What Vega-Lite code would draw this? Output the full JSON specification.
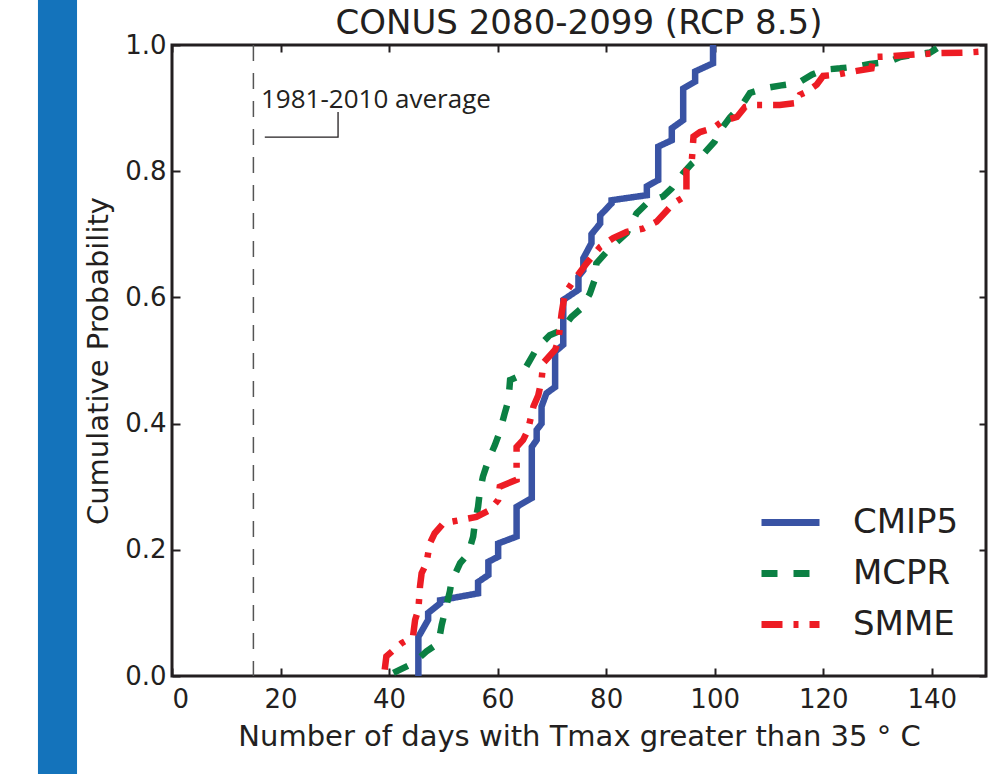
{
  "$schema": "https://vega.github.io/schema/vega-lite/v6.json",
  "width": 814,
  "height": 631,
  "autosize": {"type": "none"},
  "padding": {"left": 172, "top": 45, "right": 12, "bottom": 98},
  "background": "white",
  "title": {"text": "CONUS 2080-2099 (RCP 8.5)", "fontSize": 34, "font": "DejaVu Sans", "fontWeight": "normal", "color": "#231f20", "baseline": "alphabetic", "offset": -73.5},
  "config": {
    "view": {"stroke": "#231f20", "strokeWidth": 3},
    "axis": {
      "domain": false, "grid": false, "tickColor": "#231f20", "tickWidth": 2, "tickSize": -8,
      "labelFont": "DejaVu Sans", "labelFontSize": 26, "labelColor": "#231f20", "labelPadding": 18,
      "titleFont": "DejaVu Sans", "titleFontSize": 29, "titleFontWeight": "normal", "titleColor": "#231f20"
    }
  },
  "datasets": {
    "side": [{"x": -24.7, "x2": -17.5, "y": -0.16, "y2": 1.08}],
    "ref": [{"x": 15}],
    "pointer": [
      {"x": 17.1, "y": 0.854, "o": 1},
      {"x": 30.6, "y": 0.854, "o": 2},
      {"x": 30.6, "y": 0.894, "o": 3}
    ],
    "note": [{"x": 16.4, "y": 0.9, "label": "1981-2010 average"}],
    "cdf": [
      {"s": "CMIP5", "i": 1, "x": 45.4, "y": 0.0},
      {"s": "CMIP5", "i": 2, "x": 45.4, "y": 0.062},
      {"s": "CMIP5", "i": 3, "x": 47.2, "y": 0.089},
      {"s": "CMIP5", "i": 4, "x": 47.2, "y": 0.1},
      {"s": "CMIP5", "i": 5, "x": 49.4, "y": 0.115},
      {"s": "CMIP5", "i": 6, "x": 49.4, "y": 0.12},
      {"s": "CMIP5", "i": 7, "x": 56.4, "y": 0.131},
      {"s": "CMIP5", "i": 8, "x": 56.4, "y": 0.149},
      {"s": "CMIP5", "i": 9, "x": 58.3, "y": 0.16},
      {"s": "CMIP5", "i": 10, "x": 58.3, "y": 0.181},
      {"s": "CMIP5", "i": 11, "x": 60.1, "y": 0.189},
      {"s": "CMIP5", "i": 12, "x": 60.1, "y": 0.21},
      {"s": "CMIP5", "i": 13, "x": 63.5, "y": 0.221},
      {"s": "CMIP5", "i": 14, "x": 63.5, "y": 0.268},
      {"s": "CMIP5", "i": 15, "x": 66.3, "y": 0.282},
      {"s": "CMIP5", "i": 16, "x": 66.3, "y": 0.363},
      {"s": "CMIP5", "i": 17, "x": 67.2, "y": 0.374},
      {"s": "CMIP5", "i": 18, "x": 67.2, "y": 0.39},
      {"s": "CMIP5", "i": 19, "x": 68.1, "y": 0.4},
      {"s": "CMIP5", "i": 20, "x": 68.1, "y": 0.427},
      {"s": "CMIP5", "i": 21, "x": 69.0, "y": 0.448},
      {"s": "CMIP5", "i": 22, "x": 70.6, "y": 0.458},
      {"s": "CMIP5", "i": 23, "x": 70.6, "y": 0.514},
      {"s": "CMIP5", "i": 24, "x": 72.1, "y": 0.525},
      {"s": "CMIP5", "i": 25, "x": 72.1, "y": 0.596},
      {"s": "CMIP5", "i": 26, "x": 74.9, "y": 0.612},
      {"s": "CMIP5", "i": 27, "x": 74.9, "y": 0.633},
      {"s": "CMIP5", "i": 28, "x": 75.8, "y": 0.643},
      {"s": "CMIP5", "i": 29, "x": 75.8, "y": 0.662},
      {"s": "CMIP5", "i": 30, "x": 77.3, "y": 0.686},
      {"s": "CMIP5", "i": 31, "x": 77.3, "y": 0.7},
      {"s": "CMIP5", "i": 32, "x": 78.9, "y": 0.717},
      {"s": "CMIP5", "i": 33, "x": 78.9, "y": 0.73},
      {"s": "CMIP5", "i": 34, "x": 81.0, "y": 0.749},
      {"s": "CMIP5", "i": 35, "x": 81.0, "y": 0.754},
      {"s": "CMIP5", "i": 36, "x": 87.5, "y": 0.762},
      {"s": "CMIP5", "i": 37, "x": 87.5, "y": 0.776},
      {"s": "CMIP5", "i": 38, "x": 89.6, "y": 0.786},
      {"s": "CMIP5", "i": 39, "x": 89.6, "y": 0.839},
      {"s": "CMIP5", "i": 40, "x": 92.1, "y": 0.849},
      {"s": "CMIP5", "i": 41, "x": 92.1, "y": 0.868},
      {"s": "CMIP5", "i": 42, "x": 94.2, "y": 0.881},
      {"s": "CMIP5", "i": 43, "x": 94.2, "y": 0.931},
      {"s": "CMIP5", "i": 44, "x": 96.4, "y": 0.942},
      {"s": "CMIP5", "i": 45, "x": 96.4, "y": 0.958},
      {"s": "CMIP5", "i": 46, "x": 99.7, "y": 0.971},
      {"s": "CMIP5", "i": 47, "x": 99.7, "y": 1.0},
      {"s": "MCPR", "i": 1, "x": 40.8, "y": 0.005},
      {"s": "MCPR", "i": 2, "x": 44.4, "y": 0.02},
      {"s": "MCPR", "i": 3, "x": 46.9, "y": 0.039},
      {"s": "MCPR", "i": 4, "x": 49.1, "y": 0.052},
      {"s": "MCPR", "i": 5, "x": 49.7, "y": 0.081},
      {"s": "MCPR", "i": 6, "x": 50.3, "y": 0.102},
      {"s": "MCPR", "i": 7, "x": 51.2, "y": 0.134},
      {"s": "MCPR", "i": 8, "x": 51.5, "y": 0.149},
      {"s": "MCPR", "i": 9, "x": 53.1, "y": 0.179},
      {"s": "MCPR", "i": 10, "x": 54.6, "y": 0.194},
      {"s": "MCPR", "i": 11, "x": 55.5, "y": 0.221},
      {"s": "MCPR", "i": 12, "x": 55.8, "y": 0.242},
      {"s": "MCPR", "i": 13, "x": 56.4, "y": 0.268},
      {"s": "MCPR", "i": 14, "x": 56.7, "y": 0.29},
      {"s": "MCPR", "i": 15, "x": 57.3, "y": 0.316},
      {"s": "MCPR", "i": 16, "x": 58.3, "y": 0.342},
      {"s": "MCPR", "i": 17, "x": 59.5, "y": 0.366},
      {"s": "MCPR", "i": 18, "x": 60.4, "y": 0.387},
      {"s": "MCPR", "i": 19, "x": 61.3, "y": 0.416},
      {"s": "MCPR", "i": 20, "x": 62.0, "y": 0.437},
      {"s": "MCPR", "i": 21, "x": 62.3, "y": 0.469},
      {"s": "MCPR", "i": 22, "x": 64.4, "y": 0.477},
      {"s": "MCPR", "i": 23, "x": 66.0, "y": 0.501},
      {"s": "MCPR", "i": 24, "x": 67.2, "y": 0.519},
      {"s": "MCPR", "i": 25, "x": 69.6, "y": 0.54},
      {"s": "MCPR", "i": 26, "x": 71.8, "y": 0.548},
      {"s": "MCPR", "i": 27, "x": 73.6, "y": 0.569},
      {"s": "MCPR", "i": 28, "x": 75.5, "y": 0.583},
      {"s": "MCPR", "i": 29, "x": 77.0, "y": 0.606},
      {"s": "MCPR", "i": 30, "x": 77.9, "y": 0.628},
      {"s": "MCPR", "i": 31, "x": 78.2, "y": 0.654},
      {"s": "MCPR", "i": 32, "x": 80.7, "y": 0.678},
      {"s": "MCPR", "i": 33, "x": 83.8, "y": 0.702},
      {"s": "MCPR", "i": 34, "x": 85.6, "y": 0.733},
      {"s": "MCPR", "i": 35, "x": 87.5, "y": 0.749},
      {"s": "MCPR", "i": 36, "x": 90.5, "y": 0.76},
      {"s": "MCPR", "i": 37, "x": 92.1, "y": 0.773},
      {"s": "MCPR", "i": 38, "x": 94.2, "y": 0.797},
      {"s": "MCPR", "i": 39, "x": 95.8, "y": 0.812},
      {"s": "MCPR", "i": 40, "x": 98.0, "y": 0.828},
      {"s": "MCPR", "i": 41, "x": 100.0, "y": 0.847},
      {"s": "MCPR", "i": 42, "x": 101.4, "y": 0.869},
      {"s": "MCPR", "i": 43, "x": 102.8, "y": 0.885},
      {"s": "MCPR", "i": 44, "x": 105.3, "y": 0.908},
      {"s": "MCPR", "i": 45, "x": 106.5, "y": 0.924},
      {"s": "MCPR", "i": 46, "x": 109.6, "y": 0.932},
      {"s": "MCPR", "i": 47, "x": 112.3, "y": 0.936},
      {"s": "MCPR", "i": 48, "x": 115.4, "y": 0.94},
      {"s": "MCPR", "i": 49, "x": 117.9, "y": 0.953},
      {"s": "MCPR", "i": 50, "x": 120.3, "y": 0.961},
      {"s": "MCPR", "i": 51, "x": 123.1, "y": 0.963},
      {"s": "MCPR", "i": 52, "x": 126.2, "y": 0.966},
      {"s": "MCPR", "i": 53, "x": 128.6, "y": 0.97},
      {"s": "MCPR", "i": 54, "x": 132.0, "y": 0.973},
      {"s": "MCPR", "i": 55, "x": 134.2, "y": 0.981},
      {"s": "MCPR", "i": 56, "x": 137.2, "y": 0.985},
      {"s": "MCPR", "i": 57, "x": 139.7, "y": 0.988},
      {"s": "MCPR", "i": 58, "x": 141.0, "y": 0.995},
      {"s": "SMME", "i": 1, "x": 39.2, "y": 0.01},
      {"s": "SMME", "i": 2, "x": 39.5, "y": 0.031},
      {"s": "SMME", "i": 3, "x": 40.8, "y": 0.041},
      {"s": "SMME", "i": 4, "x": 42.3, "y": 0.052},
      {"s": "SMME", "i": 5, "x": 44.4, "y": 0.062},
      {"s": "SMME", "i": 6, "x": 44.8, "y": 0.089},
      {"s": "SMME", "i": 7, "x": 45.4, "y": 0.105},
      {"s": "SMME", "i": 8, "x": 45.7, "y": 0.142},
      {"s": "SMME", "i": 9, "x": 46.0, "y": 0.163},
      {"s": "SMME", "i": 10, "x": 46.9, "y": 0.179},
      {"s": "SMME", "i": 11, "x": 47.5, "y": 0.21},
      {"s": "SMME", "i": 12, "x": 48.4, "y": 0.226},
      {"s": "SMME", "i": 13, "x": 50.0, "y": 0.242},
      {"s": "SMME", "i": 14, "x": 53.0, "y": 0.247},
      {"s": "SMME", "i": 15, "x": 56.1, "y": 0.252},
      {"s": "SMME", "i": 16, "x": 58.6, "y": 0.263},
      {"s": "SMME", "i": 17, "x": 60.1, "y": 0.279},
      {"s": "SMME", "i": 18, "x": 60.4, "y": 0.3},
      {"s": "SMME", "i": 19, "x": 63.5, "y": 0.311},
      {"s": "SMME", "i": 20, "x": 63.5, "y": 0.363},
      {"s": "SMME", "i": 21, "x": 64.7, "y": 0.374},
      {"s": "SMME", "i": 22, "x": 65.6, "y": 0.39},
      {"s": "SMME", "i": 23, "x": 66.3, "y": 0.416},
      {"s": "SMME", "i": 24, "x": 66.6, "y": 0.427},
      {"s": "SMME", "i": 25, "x": 67.5, "y": 0.445},
      {"s": "SMME", "i": 26, "x": 68.1, "y": 0.469},
      {"s": "SMME", "i": 27, "x": 68.4, "y": 0.496},
      {"s": "SMME", "i": 28, "x": 70.6, "y": 0.517},
      {"s": "SMME", "i": 29, "x": 71.2, "y": 0.532},
      {"s": "SMME", "i": 30, "x": 71.8, "y": 0.575},
      {"s": "SMME", "i": 31, "x": 72.4, "y": 0.606},
      {"s": "SMME", "i": 32, "x": 73.9, "y": 0.625},
      {"s": "SMME", "i": 33, "x": 74.6, "y": 0.633},
      {"s": "SMME", "i": 34, "x": 76.4, "y": 0.654},
      {"s": "SMME", "i": 35, "x": 78.9, "y": 0.68},
      {"s": "SMME", "i": 36, "x": 81.3, "y": 0.694},
      {"s": "SMME", "i": 37, "x": 83.8, "y": 0.704},
      {"s": "SMME", "i": 38, "x": 86.8, "y": 0.709},
      {"s": "SMME", "i": 39, "x": 89.3, "y": 0.72},
      {"s": "SMME", "i": 40, "x": 92.4, "y": 0.749},
      {"s": "SMME", "i": 41, "x": 94.5, "y": 0.76},
      {"s": "SMME", "i": 42, "x": 94.8, "y": 0.768},
      {"s": "SMME", "i": 43, "x": 94.8, "y": 0.802},
      {"s": "SMME", "i": 44, "x": 95.8, "y": 0.818},
      {"s": "SMME", "i": 45, "x": 96.1, "y": 0.855},
      {"s": "SMME", "i": 46, "x": 97.3, "y": 0.862},
      {"s": "SMME", "i": 47, "x": 99.7, "y": 0.868},
      {"s": "SMME", "i": 48, "x": 101.4, "y": 0.879},
      {"s": "SMME", "i": 49, "x": 104.1, "y": 0.886},
      {"s": "SMME", "i": 50, "x": 105.6, "y": 0.902},
      {"s": "SMME", "i": 51, "x": 107.1, "y": 0.905},
      {"s": "SMME", "i": 52, "x": 112.0, "y": 0.905},
      {"s": "SMME", "i": 53, "x": 115.1, "y": 0.908},
      {"s": "SMME", "i": 54, "x": 115.7, "y": 0.921},
      {"s": "SMME", "i": 55, "x": 117.0, "y": 0.926},
      {"s": "SMME", "i": 56, "x": 118.8, "y": 0.937},
      {"s": "SMME", "i": 57, "x": 120.0, "y": 0.951},
      {"s": "SMME", "i": 58, "x": 122.5, "y": 0.953},
      {"s": "SMME", "i": 59, "x": 126.2, "y": 0.959},
      {"s": "SMME", "i": 60, "x": 128.9, "y": 0.963},
      {"s": "SMME", "i": 61, "x": 129.2, "y": 0.981},
      {"s": "SMME", "i": 62, "x": 132.3, "y": 0.982},
      {"s": "SMME", "i": 63, "x": 135.4, "y": 0.984},
      {"s": "SMME", "i": 64, "x": 140.9, "y": 0.987},
      {"s": "SMME", "i": 65, "x": 146.4, "y": 0.988},
      {"s": "SMME", "i": 66, "x": 150.0, "y": 0.99}
    ],
    "frame": [{"x": 0, "y": 0}]
  },
  "layer": [
    {
      "data": {"name": "side"},
      "mark": {"type": "rect", "color": "#1473bb", "clip": false},
      "encoding": {
        "x": {"field": "x", "type": "quantitative", "scale": {"domain": [0, 150], "nice": false, "zero": false}, "axis": null},
        "x2": {"field": "x2"},
        "y": {"field": "y", "type": "quantitative", "scale": {"domain": [0, 1], "nice": false, "zero": false}, "axis": null},
        "y2": {"field": "y2"}
      }
    },
    {
      "data": {"name": "ref"},
      "mark": {"type": "rule", "color": "#555555", "strokeWidth": 1.5, "strokeDash": [16, 12]},
      "encoding": {
        "x": {"field": "x", "type": "quantitative", "scale": {"domain": [0, 150], "nice": false, "zero": false}, "axis": null}
      }
    },
    {
      "data": {"name": "pointer"},
      "mark": {"type": "line", "color": "#231f20", "strokeWidth": 1.3},
      "encoding": {
        "x": {"field": "x", "type": "quantitative", "scale": {"domain": [0, 150], "nice": false, "zero": false}, "axis": null},
        "y": {"field": "y", "type": "quantitative", "scale": {"domain": [0, 1], "nice": false, "zero": false}, "axis": null},
        "order": {"field": "o"}
      }
    },
    {
      "data": {"name": "note"},
      "mark": {"type": "text", "align": "left", "baseline": "alphabetic", "font": "Open Sans", "fontSize": 26, "color": "#231f20"},
      "encoding": {
        "x": {"field": "x", "type": "quantitative", "scale": {"domain": [0, 150], "nice": false, "zero": false}, "axis": null},
        "y": {"field": "y", "type": "quantitative", "scale": {"domain": [0, 1], "nice": false, "zero": false}, "axis": null},
        "text": {"field": "label"}
      }
    },
    {
      "data": {"name": "cdf"},
      "mark": {"type": "line", "strokeWidth": 6.5, "strokeCap": "butt", "clip": true},
      "encoding": {
        "x": {"field": "x", "type": "quantitative", "scale": {"domain": [0, 150], "nice": false, "zero": false},
              "axis": {"values": [0, 20, 40, 60, 80, 100, 120, 140], "title": "Number of days with Tmax greater than 35 ° C", "titlePadding": 10}},
        "y": {"field": "y", "type": "quantitative", "scale": {"domain": [0, 1], "nice": false, "zero": false},
              "axis": {"values": [0, 0.2, 0.4, 0.6, 0.8, 1.0], "format": ".1f", "title": "Cumulative Probability", "labelPadding": 14, "titlePadding": 11}},
        "order": {"field": "i"},
        "color": {"field": "s", "type": "nominal",
                  "scale": {"domain": ["CMIP5", "MCPR", "SMME"], "range": ["#3953a4", "#0b8043", "#ed1c24"]},
                  "legend": {"title": null, "orient": "none", "legendX": 586, "legendY": 452, "symbolType": "stroke", "symbolSize": 3364, "symbolStrokeWidth": 7,
                             "labelFont": "DejaVu Sans", "labelFontSize": 34, "labelColor": "#231f20", "labelOffset": 30, "rowPadding": 0, "clipHeight": 51, "padding": 0}},
        "strokeDash": {"field": "s", "type": "nominal",
                       "scale": {"domain": ["CMIP5", "MCPR", "SMME"], "range": [[1, 0], [16, 16], [21, 11, 5, 11]]},
                       "legend": {"title": null, "orient": "none", "legendX": 586, "legendY": 452, "symbolType": "stroke", "symbolSize": 3364, "symbolStrokeWidth": 7,
                             "labelFont": "DejaVu Sans", "labelFontSize": 34, "labelColor": "#231f20", "labelOffset": 30, "rowPadding": 0, "clipHeight": 51, "padding": 0}}
      }
    },
    {
      "data": {"name": "frame"},
      "mark": {"type": "point", "opacity": 0},
      "encoding": {
        "x": {"field": "x", "type": "quantitative", "scale": {"domain": [0, 150], "nice": false, "zero": false},
              "axis": {"orient": "top", "values": [0, 20, 40, 60, 80, 100, 120, 140], "labels": false, "title": null, "tickSize": -7}},
        "y": {"field": "y", "type": "quantitative", "scale": {"domain": [0, 1], "nice": false, "zero": false},
              "axis": {"orient": "right", "values": [0, 0.2, 0.4, 0.6, 0.8, 1.0], "labels": false, "title": null, "tickSize": -7}}
      }
    }
  ],
  "resolve": {"axis": {"x": "independent", "y": "independent"}}
}
